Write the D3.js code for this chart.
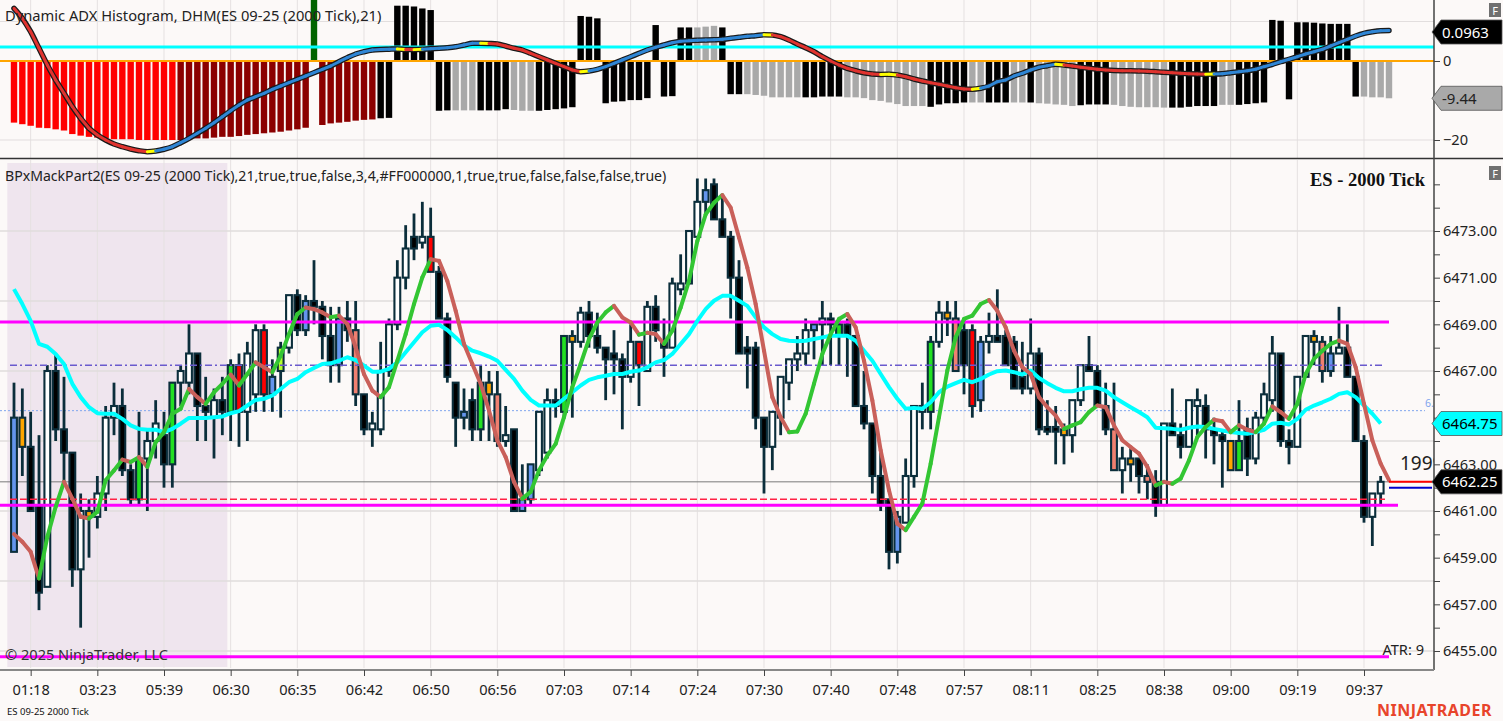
<!DOCTYPE html>
<html>
<head>
<meta charset="utf-8">
<script src="https://cdn.jsdelivr.net/npm/d3@7"></script>
<style>
	body { margin: 0; background: #fcf9f8; }
	svg { display: block; font-family: "Noto Sans", "Open Sans", sans-serif; }
</style>
</head>
<body>
<svg id="chart" width="1503" height="721"></svg>
<script>
// time axis labels and the bar they sit under
const timeLabels = ["01:18", "03:23", "05:39", "06:30", "06:35", "06:42", "06:50", "06:56", "07:03", "07:14", "07:24",
	"07:30", "07:40", "07:48", "07:57", "08:11", "08:25", "08:38", "09:00", "09:19", "09:37"];
const timeLabelBars = [2, 10, 18, 26, 34, 42, 50, 58, 66, 74, 82, 90, 98, 106, 114, 122, 130, 138, 146, 154, 162];

// 2000 tick candles
const opens = [
	6465.0, 6465.0, 6463.75, 6461.25, 6457.75, 6467.0, 6464.5, 6463.5, 6458.5, 6461.0,
	6460.75, 6461.75, 6465.0, 6465.5, 6462.75, 6461.5, 6463.25, 6464.0, 6464.25, 6463.0,
	6466.5, 6466.5, 6467.75, 6465.5, 6465.0, 6465.75, 6465.25, 6467.25, 6465.25, 6466.0,
	6468.75, 6466.0, 6467.0, 6468.0, 6470.25, 6468.75, 6470.0, 6469.75, 6468.5, 6467.25,
	6469.25, 6468.75, 6466.0, 6464.5, 6464.5, 6467.0, 6469.0, 6471.0, 6472.75, 6472.5,
	6472.75, 6471.25, 6469.25, 6466.5, 6465.0, 6465.75, 6464.5, 6466.5, 6466.0, 6464.0,
	6464.5, 6461.0, 6461.5, 6462.75, 6463.5, 6465.75, 6465.25, 6468.5, 6468.25, 6469.5,
	6468.5, 6468.0, 6467.75, 6467.5, 6466.75, 6468.25, 6467.0, 6469.75, 6468.25, 6468.0,
	6470.5, 6470.75, 6472.75, 6474.25, 6475.0, 6473.5, 6472.75, 6471.0, 6468.0, 6468.0,
	6465.0, 6463.75, 6465.0, 6466.5, 6467.5, 6467.75, 6468.75, 6469.0, 6469.25, 6468.5,
	6469.0, 6468.5, 6465.5, 6464.75, 6462.5, 6461.5, 6459.25, 6460.5, 6462.5, 6465.25,
	6465.25, 6468.25, 6469.5, 6469.25, 6468.75, 6468.75, 6465.75, 6468.25, 6468.5, 6468.5,
	6468.25, 6466.75, 6466.25, 6467.75, 6464.6, 6464.6, 6464.5, 6464.25, 6465.75, 6467.25,
	6467.0, 6465.5, 6464.5, 6462.75, 6463.25, 6463.25, 6462.5, 6462.25, 6461.25, 6464.75,
	6464.25, 6463.75, 6465.5, 6465.5, 6464.5, 6464.25, 6464.0, 6462.75, 6464.5, 6463.25,
	6465.0, 6465.75, 6467.75, 6464.0, 6463.75, 6466.75, 6468.5, 6468.25, 6467.0, 6467.75,
	6468.0, 6466.75, 6464.0, 6460.75, 6461.75
];
const highs = [
	6466.5, 6466.25, 6465.25, 6464.25, 6467.25, 6467.75, 6466.75, 6463.5, 6461.75, 6461.5,
	6462.5, 6465.5, 6466.5, 6466.25, 6463.0, 6465.25, 6464.5, 6465.75, 6465.25, 6466.5,
	6467.25, 6469.0, 6467.75, 6466.75, 6466.25, 6466.75, 6467.5, 6467.75, 6468.25, 6469.0,
	6469.0, 6467.5, 6468.25, 6470.25, 6470.5, 6470.25, 6471.75, 6470.0, 6469.75, 6469.75,
	6470.0, 6470.0, 6466.0, 6465.25, 6468.25, 6469.25, 6471.75, 6473.25, 6473.75, 6474.25,
	6474.0, 6471.5, 6469.5, 6466.5, 6466.25, 6466.25, 6467.25, 6467.0, 6467.0, 6465.5,
	6464.5, 6463.0, 6463.0, 6465.25, 6466.25, 6466.25, 6468.5, 6468.75, 6469.75, 6470.0,
	6469.5, 6468.0, 6468.75, 6467.75, 6469.0, 6468.25, 6470.0, 6470.25, 6469.25, 6471.0,
	6472.0, 6473.0, 6475.25, 6475.25, 6475.25, 6474.5, 6473.0, 6471.75, 6468.5, 6468.25,
	6465.0, 6465.25, 6466.75, 6467.5, 6468.5, 6469.25, 6469.0, 6470.0, 6469.5, 6469.25,
	6469.25, 6468.5, 6467.0, 6464.75, 6463.5, 6461.5, 6461.0, 6463.25, 6465.5, 6466.5,
	6468.5, 6470.0, 6470.0, 6470.0, 6469.25, 6469.0, 6468.5, 6469.5, 6470.5, 6468.75,
	6468.5, 6468.25, 6469.25, 6468.0, 6465.75, 6465.5, 6464.75, 6465.75, 6467.25, 6468.5,
	6467.25, 6466.5, 6466.5, 6463.75, 6463.75, 6463.25, 6463.0, 6462.75, 6464.75, 6466.25,
	6464.75, 6465.75, 6466.25, 6466.0, 6465.0, 6464.5, 6464.0, 6465.75, 6465.0, 6465.25,
	6466.5, 6468.5, 6467.75, 6464.5, 6466.75, 6468.5, 6468.75, 6468.5, 6468.5, 6469.75,
	6469.0, 6466.75, 6464.25, 6461.75, 6462.5
];
const lows = [
	6459.25, 6462.5, 6461.0, 6456.75, 6457.75, 6464.0, 6462.25, 6457.75, 6456.0, 6459.0,
	6460.25, 6461.0, 6464.25, 6462.5, 6461.25, 6461.25, 6461.0, 6463.25, 6462.0, 6462.0,
	6465.5, 6466.0, 6464.0, 6464.0, 6463.25, 6464.25, 6464.0, 6463.75, 6464.0, 6465.25,
	6465.25, 6465.25, 6465.0, 6467.75, 6468.5, 6468.5, 6469.0, 6467.5, 6466.5, 6466.5,
	6468.25, 6465.5, 6464.25, 6463.75, 6464.25, 6466.75, 6468.75, 6470.5, 6471.75, 6472.25,
	6471.25, 6469.25, 6466.5, 6463.75, 6464.5, 6464.0, 6464.0, 6464.0, 6463.75, 6463.75,
	6461.0, 6461.0, 6461.25, 6462.5, 6463.25, 6465.0, 6465.0, 6465.0, 6468.0, 6468.0,
	6467.75, 6465.75, 6466.0, 6464.5, 6466.5, 6465.5, 6467.0, 6468.25, 6466.75, 6468.0,
	6470.25, 6470.75, 6472.75, 6473.75, 6473.5, 6472.75, 6469.25, 6467.75, 6466.25, 6464.5,
	6461.75, 6462.75, 6464.25, 6465.75, 6467.0, 6467.25, 6467.5, 6467.25, 6467.25, 6467.25,
	6466.75, 6465.5, 6464.5, 6461.75, 6461.0, 6458.5, 6458.75, 6460.5, 6462.0, 6464.5,
	6464.5, 6468.0, 6468.5, 6467.0, 6466.0, 6465.0, 6465.25, 6467.75, 6468.25, 6467.25,
	6466.25, 6466.0, 6466.0, 6464.25, 6464.25, 6463.0, 6463.0, 6463.5, 6465.5, 6467.0,
	6465.5, 6464.25, 6462.75, 6461.75, 6462.25, 6461.75, 6461.5, 6460.75, 6461.25, 6464.25,
	6463.25, 6463.75, 6464.25, 6463.25, 6463.0, 6462.0, 6462.75, 6462.75, 6462.5, 6463.0,
	6464.75, 6465.25, 6463.75, 6463.0, 6463.75, 6466.75, 6467.25, 6466.5, 6466.75, 6467.75,
	6466.75, 6464.0, 6460.5, 6459.5, 6461.25
];
const closes = [
	6459.25, 6463.75, 6461.0, 6457.5, 6467.0, 6464.5, 6463.5, 6458.5, 6461.0, 6460.75,
	6461.75, 6465.0, 6465.5, 6462.75, 6461.5, 6463.25, 6464.0, 6464.75, 6463.0, 6466.5,
	6467.0, 6467.75, 6465.5, 6465.25, 6465.75, 6465.25, 6467.25, 6465.25, 6467.75, 6468.75,
	6466.0, 6466.75, 6468.0, 6470.25, 6468.75, 6470.0, 6469.75, 6468.5, 6467.25, 6469.25,
	6468.75, 6466.0, 6464.5, 6464.75, 6467.0, 6469.0, 6471.0, 6472.25, 6472.25, 6472.75,
	6471.25, 6469.25, 6466.75, 6465.0, 6465.25, 6464.5, 6466.5, 6466.0, 6464.0, 6464.25,
	6461.0, 6461.5, 6463.0, 6465.25, 6465.75, 6465.5, 6468.5, 6468.25, 6469.5, 6468.5,
	6468.0, 6467.5, 6467.5, 6466.75, 6468.25, 6467.25, 6469.75, 6468.75, 6468.0, 6470.75,
	6470.75, 6473.0, 6474.25, 6474.75, 6473.5, 6472.75, 6471.0, 6467.75, 6467.75, 6465.0,
	6463.75, 6465.25, 6466.75, 6467.5, 6467.75, 6468.75, 6469.0, 6469.25, 6469.0, 6469.0,
	6468.5, 6465.5, 6464.75, 6462.5, 6461.25, 6459.25, 6460.75, 6462.5, 6465.5, 6465.5,
	6468.25, 6469.5, 6469.25, 6467.0, 6467.25, 6465.5, 6468.25, 6468.5, 6468.25, 6467.25,
	6466.25, 6466.25, 6467.75, 6464.5, 6464.4, 6464.4, 6464.25, 6465.75, 6467.25, 6467.0,
	6465.5, 6464.5, 6462.75, 6463.25, 6463.0, 6462.5, 6462.25, 6461.25, 6464.75, 6464.25,
	6463.75, 6465.75, 6465.75, 6464.5, 6464.25, 6464.0, 6462.75, 6464.0, 6463.25, 6465.0,
	6466.0, 6467.75, 6464.0, 6463.75, 6466.75, 6468.5, 6468.25, 6467.0, 6467.75, 6468.0,
	6466.75, 6464.0, 6460.75, 6461.75, 6462.25
];
// body fill per candle: w hollow, k black, b blue, o orange, g green, r red, s salmon, y yellow-green
const candleFills = ("bokkwkkkwo" + "wwwkkgwwkg" + "wwkkwkgrww" + "rbywkbkkkb" + "kskwwwwwkw" +
	"rkkkbkgosw" + "kbbwwkgowk" + "kkkkwrwkkw" + "wwwbkkkkkk" + "kwwwwwbwkg" +
	"kkkkkkbwww" + "gwoskrbwkk" + "kkwkkkowwk" + "kkswokskwk" + "kwwkkkogkw" +
	"wwkkwwosbw" + "kkkww").split("");

// fast average (green rising / red falling)
const fastAvg = [
	6460.01, 6459.68, 6459.25, 6458.11, 6459.89, 6461.18, 6462.25, 6461.53, 6460.75, 6460.68,
	6460.96, 6462.32, 6462.74, 6463.20, 6463.10, 6463.31, 6462.89, 6463.95, 6464.38, 6465.17,
	6465.38, 6466.23, 6465.88, 6465.59, 6466.09, 6466.45, 6466.85, 6466.38, 6466.87, 6467.37,
	6467.16, 6466.95, 6467.66, 6468.58, 6469.44, 6469.72, 6469.65, 6469.51, 6469.30, 6469.37,
	6469.01, 6468.01, 6466.87, 6466.16, 6465.88, 6466.31, 6467.44, 6468.58, 6469.87, 6471.01,
	6471.79, 6471.72, 6470.86, 6469.58, 6468.16, 6467.30, 6466.45, 6465.31, 6464.03, 6463.31,
	6462.25, 6461.53, 6461.82, 6462.74, 6463.38, 6463.88, 6465.02, 6466.31, 6467.30, 6468.37,
	6469.08, 6469.51, 6469.79, 6469.30, 6469.08, 6468.56, 6468.64, 6468.58, 6468.16, 6468.73,
	6469.72, 6470.86, 6472.57, 6473.71, 6474.21, 6474.54, 6474.00, 6472.72, 6471.43, 6469.87,
	6467.87, 6465.88, 6465.02, 6464.38, 6464.41, 6465.17, 6466.45, 6467.73, 6468.58, 6469.23,
	6469.44, 6468.87, 6467.44, 6465.74, 6463.60, 6461.89, 6460.46, 6460.18, 6460.75, 6461.32,
	6463.03, 6465.02, 6467.02, 6468.44, 6469.23, 6469.37, 6469.87, 6470.04, 6469.58, 6468.87,
	6467.87, 6467.16, 6466.87, 6465.88, 6465.45, 6465.09, 6464.52, 6464.67, 6464.81, 6465.24,
	6465.52, 6465.45, 6464.67, 6464.03, 6463.74, 6463.46, 6462.89, 6462.10, 6462.25, 6462.17,
	6462.39, 6463.17, 6464.17, 6464.60, 6464.91, 6464.85, 6464.38, 6464.67, 6464.48, 6464.38,
	6464.74, 6465.48, 6465.24, 6464.95, 6465.59, 6466.87, 6467.52, 6467.87, 6468.16, 6468.30,
	6468.16, 6467.16, 6465.59, 6464.03, 6463.03, 6462.32
];
// slow average (cyan)
const slowAvg = [
	6470.51, 6469.87, 6469.15, 6468.16, 6468.04, 6467.73, 6467.30, 6466.45, 6465.88, 6465.45,
	6465.19, 6465.17, 6465.17, 6464.95, 6464.67, 6464.52, 6464.48, 6464.48, 6464.38, 6464.52,
	6464.74, 6464.99, 6464.99, 6464.99, 6465.02, 6465.05, 6465.19, 6465.28, 6465.52, 6465.76,
	6465.81, 6465.95, 6466.23, 6466.52, 6466.66, 6466.95, 6467.13, 6467.30, 6467.33, 6467.44,
	6467.59, 6467.47, 6467.23, 6466.97, 6466.97, 6467.09, 6467.37, 6467.80, 6468.23, 6468.66,
	6468.94, 6468.98, 6468.76, 6468.44, 6468.09, 6467.87, 6467.76, 6467.62, 6467.44, 6467.05,
	6466.66, 6466.16, 6465.76, 6465.52, 6465.52, 6465.52, 6465.81, 6466.09, 6466.38, 6466.62,
	6466.73, 6466.80, 6466.87, 6466.87, 6466.97, 6467.02, 6467.16, 6467.37, 6467.47, 6467.73,
	6468.16, 6468.58, 6469.15, 6469.65, 6470.01, 6470.22, 6470.22, 6470.01, 6469.79, 6469.30,
	6468.87, 6468.58, 6468.37, 6468.30, 6468.27, 6468.30, 6468.37, 6468.44, 6468.51, 6468.51,
	6468.51, 6468.30, 6467.87, 6467.44, 6466.87, 6466.31, 6465.81, 6465.38, 6465.42, 6465.38,
	6465.66, 6466.09, 6466.33, 6466.48, 6466.62, 6466.52, 6466.66, 6466.85, 6466.99, 6467.02,
	6466.95, 6466.85, 6467.02, 6466.70, 6466.48, 6466.28, 6466.13, 6466.13, 6466.22, 6466.28,
	6466.28, 6466.16, 6465.88, 6465.66, 6465.45, 6465.24, 6465.02, 6464.57, 6464.55, 6464.52,
	6464.48, 6464.57, 6464.62, 6464.60, 6464.52, 6464.45, 6464.38, 6464.34, 6464.31, 6464.38,
	6464.48, 6464.74, 6464.78, 6464.71, 6464.95, 6465.34, 6465.52, 6465.66, 6465.81, 6466.02,
	6466.09, 6465.88, 6465.52, 6465.17, 6464.75
];

// Dynamic ADX histogram panel
const histValues = [
	-15.6, -16.0, -16.4, -16.9, -17.0, -17.3, -17.6, -18.5, -18.9, -19.2,
	-19.4, -19.6, -19.8, -19.8, -19.8, -20.0, -20.0, -20.0, -20.0, -20.0,
	-20.0, -19.8, -19.6, -19.6, -19.4, -19.2, -19.2, -19.0, -18.7, -18.5,
	-18.3, -18.1, -17.9, -17.6, -17.3, -16.9, 16.0, -16.2, -15.8, -15.6,
	-15.4, -15.1, -14.9, -14.8, -14.5, -14.4, 14.0, 14.0, 13.8, 13.3,
	12.9, -12.6, -12.5, -12.5, -12.5, -12.5, -12.5, -12.5, -12.5, -12.2,
	-12.4, -12.6, -12.6, -12.6, -12.4, -12.2, -12.0, -11.7, 11.4, 11.2,
	10.8, -10.7, -10.3, -10.2, -9.9, -9.9, -9.4, 9.1, -9.0, -8.9,
	8.5, 8.5, 8.5, 8.7, 8.9, 8.5, -8.4, -8.4, -8.4, -8.6,
	-8.8, -9.2, -9.2, -9.2, -9.2, -9.2, -9.2, -9.0, -9.0, -9.0,
	-9.2, -9.2, -9.4, -9.9, -10.1, -10.5, -10.9, -11.4, -11.4, -11.4,
	-11.6, -11.0, -10.7, -10.7, -10.5, -10.5, -10.5, -10.5, -10.5, -10.5,
	-10.5, -10.5, -10.5, -10.7, -10.8, -11.0, -11.1, -11.4, -11.2, -11.0,
	-11.0, -11.0, -11.1, -11.4, -11.6, -11.7, -11.7, -11.7, -11.8, -11.8,
	-11.8, -11.6, -11.4, -11.4, -11.4, -11.1, -11.1, -11.1, -10.9, -10.7,
	-10.5, 10.4, 10.2, -9.7, 9.8, 9.8, 9.7, 9.5, 9.4, 9.4,
	9.4, -9.0, -9.0, -9.2, -9.2, -9.44
];
// R red, D dark red, G green, K black, A gray
const histColors = ("RRRRRRRRRR" + "RRRRRRRRRR" + "DDDDDDDDDD" + "DDDDDDGDDD" + "DDDDKKKKKK" +
	"KKKAAAKKKK" + "AAAKKKKKKK" + "KKKKKKKKKK" + "KKAAAKKKAA" + "AAAAAKKKKK" +
	"AAAAAAAAAA" + "KKKKKAAKKK" + "AAKAAAAAKK" + "KKAAAAAAAK" + "KKKKKAAKKK" +
	"KKKKKKKKKK" + "KKAAAA").split("");
const dhmLine = [
	13.34, 10.81, 7.42, 3.22, -1.01, -4.81, -8.18, -11.57, -14.51, -17.04,
	-18.73, -20.0, -21.01, -21.70, -22.28, -22.71, -22.96, -22.78, -22.35, -21.70,
	-20.68, -19.57, -18.30, -17.04, -15.62, -14.10, -12.58, -11.14, -9.87, -9.04,
	-8.18, -7.16, -6.33, -5.49, -4.63, -3.80, -2.96, -2.10, -1.27, -0.18,
	0.84, 1.77, 2.35, 2.78, 2.94, 2.99, 3.04, 2.93, 2.88, 2.96,
	3.12, 3.22, 3.37, 3.62, 4.05, 4.48, 4.51, 4.43, 4.30, 3.80,
	3.22, 2.78, 1.95, 1.09, 0.25, -0.58, -1.44, -2.28, -2.71, -2.53,
	-2.10, -1.44, -0.58, 0.25, 1.09, 1.95, 2.78, 3.47, 4.05, 4.63,
	4.99, 5.14, 5.24, 5.32, 5.39, 5.49, 5.75, 6.00, 6.25, 6.41,
	6.66, 6.61, 6.15, 5.32, 4.30, 3.37, 2.35, 1.09, 0.0, -1.01,
	-1.85, -2.46, -2.96, -3.29, -3.40, -3.38, -3.54, -3.97, -4.56, -5.06,
	-5.49, -5.90, -6.33, -6.76, -7.09, -7.16, -6.91, -6.33, -5.24, -4.81,
	-3.80, -3.11, -2.28, -1.59, -1.19, -0.84, -1.01, -1.27, -1.59, -1.85,
	-2.10, -2.28, -2.41, -2.46, -2.48, -2.53, -2.58, -2.71, -2.86, -2.96,
	-3.11, -3.22, -3.29, -3.34, -3.29, -3.22, -2.96, -2.71, -2.46, -2.10,
	-1.44, -0.84, -0.18, 0.43, 1.09, 1.77, 2.35, 2.96, 3.80, 4.63,
	5.49, 6.33, 7.01, 7.42, 7.67, 7.72
];
const histCyanLevel = 3.54;
const histTicks = [0, -10, -20];
const histGrid = [10, -20];
const dhmTagText = "0.0963";
const histTagText = "-9.44";

// price levels on the main panel
const magentaLevels = [[6469.1, 1389], [6461.25, 1398], [6454.75, 1389]];
const dashDotLevel = 6467.25;
const dottedLevel = 6465.3;
const redDashLevel = 6461.5;
const lastPrice = 6462.25;
const bidLevel = 6462.0;
const priceGrid = [6473, 6470, 6467, 6464, 6461, 6458, 6455];
const priceLabels = [6473, 6471, 6469, 6467, 6463, 6461, 6459, 6457, 6455];
const sessionBars = [-0.8, 25.6];

const fillColors = { w: "#ffffff", k: "#000000", b: "#6495ed", o: "#ffa500", g: "#22e022", r: "#ff0000", s: "#f08070", y: "#b5ff2f" };
const histFill = { R: "#ff0000", D: "#8b0000", G: "#006400", K: "#000000", A: "#a9a9a9" };

const axisX = 1434;
const svg = d3.select("#chart");

const x = d3.scaleLinear().domain([0, 165]).range([14, 1389]);
const yTop = d3.scaleLinear().domain([-20, 0]).range([140, 61]);
const yMain = d3.scaleLinear().domain([6455, 6473]).range([651, 231]);

svg.append("rect").attr("width", 1503).attr("height", 721).attr("fill", "#fcf9f8");

let defs = svg.append("defs");
defs.append("clipPath").attr("id", "clipTop").append("rect")
	.attr("x", 0).attr("y", 0).attr("width", axisX).attr("height", 158);
defs.append("clipPath").attr("id", "clipMain").append("rect")
	.attr("x", 0).attr("y", 160).attr("width", axisX).attr("height", 508);

// ---------- top panel ----------
let topPanel = svg.append("g").attr("clip-path", "url(#clipTop)");

topPanel.selectAll(".vgrid").data(timeLabelBars).enter().append("line")
	.attr("x1", d => x(d)).attr("x2", d => x(d)).attr("y1", 0).attr("y2", 158)
	.attr("stroke", "#e5e1e1").attr("stroke-width", 1);
topPanel.selectAll(".hgrid").data(histGrid).enter().append("line")
	.attr("x1", 0).attr("x2", axisX).attr("y1", d => yTop(d)).attr("y2", d => yTop(d))
	.attr("stroke", "#e2dede").attr("stroke-width", 1.2);

topPanel.selectAll(".hist").data(histValues).enter().append("rect")
	.attr("x", (d, i) => x(i) - 3.2)
	.attr("width", 6.4)
	.attr("y", d => Math.min(yTop(d), yTop(0)))
	.attr("height", d => Math.abs(yTop(d) - yTop(0)))
	.attr("fill", (d, i) => histFill[histColors[i]]);

topPanel.append("line").attr("x1", 0).attr("x2", axisX)
	.attr("y1", yTop(histCyanLevel)).attr("y2", yTop(histCyanLevel))
	.attr("stroke", "#00ffff").attr("stroke-width", 3);
topPanel.append("line").attr("x1", 0).attr("x2", axisX)
	.attr("y1", yTop(0)).attr("y2", yTop(0))
	.attr("stroke", "#ffa500").attr("stroke-width", 2);

let dhmGen = d3.line().x((d, i) => x(i)).y(d => yTop(d)).curve(d3.curveMonotoneX);
topPanel.append("path").attr("d", dhmGen(dhmLine))
	.attr("fill", "none").attr("stroke", "#1a1a1a").attr("stroke-width", 5.5).attr("stroke-linecap", "round");

// colour each piece: blue rising, red falling, yellow on a turn
let prevDir = dhmLine[1] >= dhmLine[0];
for (let i = 1; i < dhmLine.length; i++) {
	let dir = dhmLine[i] >= dhmLine[i - 1];
	let col = dir ? "#2f86d6" : "#e0332f";
	if (i > 1 && dir !== prevDir) col = "#ffff00";
	prevDir = dir;
	topPanel.append("line")
		.attr("x1", x(i - 1)).attr("y1", yTop(dhmLine[i - 1]))
		.attr("x2", x(i)).attr("y2", yTop(dhmLine[i]))
		.attr("stroke", col).attr("stroke-width", 3).attr("stroke-linecap", "round");
}

svg.append("text").attr("x", 5).attr("y", 21).attr("font-size", 14.7).attr("fill", "#222")
	.text("Dynamic ADX Histogram, DHM(ES 09-25 (2000 Tick),21)");

// ---------- main panel ----------
let mainPanel = svg.append("g").attr("clip-path", "url(#clipMain)");

mainPanel.append("rect")
	.attr("x", x(sessionBars[0])).attr("y", 163)
	.attr("width", x(sessionBars[1]) - x(sessionBars[0])).attr("height", 504)
	.attr("fill", "#efe5ee");

mainPanel.selectAll(".vgrid").data(timeLabelBars).enter().append("line")
	.attr("x1", d => x(d)).attr("x2", d => x(d)).attr("y1", 160).attr("y2", 668)
	.attr("stroke", "#e5e1e1").attr("stroke-width", 1);
mainPanel.selectAll(".hgrid").data(priceGrid).enter().append("line")
	.attr("x1", 0).attr("x2", axisX).attr("y1", d => yMain(d)).attr("y2", d => yMain(d))
	.attr("stroke", "#e0dcdc").attr("stroke-width", 1.5);

// thin price lines under the candles
mainPanel.append("line").attr("x1", 0).attr("x2", axisX)
	.attr("y1", yMain(lastPrice)).attr("y2", yMain(lastPrice))
	.attr("stroke", "#7a7a7a").attr("stroke-width", 1);
mainPanel.append("line").attr("x1", 0).attr("x2", 1425)
	.attr("y1", yMain(dottedLevel)).attr("y2", yMain(dottedLevel))
	.attr("stroke", "#7fa5ee").attr("stroke-width", 1).attr("stroke-dasharray", "2,2");

let candles = mainPanel.selectAll(".candle").data(opens).enter().append("g");
candles.append("line")
	.attr("x1", (d, i) => x(i)).attr("x2", (d, i) => x(i))
	.attr("y1", (d, i) => yMain(highs[i])).attr("y2", (d, i) => yMain(lows[i]))
	.attr("stroke", "#0b2e3b").attr("stroke-width", 2.8);
candles.append("rect")
	.attr("x", (d, i) => x(i) - 2.9)
	.attr("width", 5.8)
	.attr("y", (d, i) => yMain(Math.max(opens[i], closes[i])))
	.attr("height", (d, i) => Math.max(1.2, Math.abs(yMain(opens[i]) - yMain(closes[i]))))
	.attr("fill", (d, i) => fillColors[candleFills[i]])
	.attr("stroke", "#0b2e3b").attr("stroke-width", 2.1);

mainPanel.append("line").attr("x1", 10).attr("x2", 1385)
	.attr("y1", yMain(dashDotLevel)).attr("y2", yMain(dashDotLevel))
	.attr("stroke", "#6a5acd").attr("stroke-width", 1.5).attr("stroke-dasharray", "7,3,2,3");
mainPanel.append("line").attr("x1", 10).attr("x2", 1385)
	.attr("y1", yMain(redDashLevel)).attr("y2", yMain(redDashLevel))
	.attr("stroke", "#ff2244").attr("stroke-width", 1.5).attr("stroke-dasharray", "7,3");
mainPanel.selectAll(".mag").data(magentaLevels).enter().append("line")
	.attr("x1", 0).attr("x2", d => d[1])
	.attr("y1", d => yMain(d[0])).attr("y2", d => yMain(d[0]))
	.attr("stroke", "#ff00ff").attr("stroke-width", 3);

let lineGen = d3.line().x((d, i) => x(i)).y(d => yMain(d));
mainPanel.append("path").attr("d", lineGen(slowAvg))
	.attr("fill", "none").attr("stroke", "#00ffff").attr("stroke-width", 4).attr("stroke-linejoin", "round");

for (let i = 1; i < fastAvg.length; i++) {
	mainPanel.append("line")
		.attr("x1", x(i - 1)).attr("y1", yMain(fastAvg[i - 1]))
		.attr("x2", x(i)).attr("y2", yMain(fastAvg[i]))
		.attr("stroke", fastAvg[i] >= fastAvg[i - 1] ? "#33c633" : "#c9605a")
		.attr("stroke-width", 4).attr("stroke-linecap", "round");
}

// last price / bid markers
mainPanel.append("line").attr("x1", x(165)).attr("x2", 1432)
	.attr("y1", yMain(lastPrice)).attr("y2", yMain(lastPrice))
	.attr("stroke", "#ff0000").attr("stroke-width", 2);
mainPanel.append("line").attr("x1", x(165)).attr("x2", 1432)
	.attr("y1", yMain(bidLevel)).attr("y2", yMain(bidLevel))
	.attr("stroke", "#0000cc").attr("stroke-width", 2);

mainPanel.append("text").attr("x", 1400).attr("y", 470).attr("font-size", 19).attr("fill", "#222").text("1999");
mainPanel.append("text").attr("x", 1425).attr("y", yMain(dottedLevel) - 4).attr("font-size", 10.5).attr("fill", "#7fa5ee").text("6.");

svg.append("text").attr("x", 5).attr("y", 181).attr("font-size", 14.1).attr("fill", "#222")
	.text("BPxMackPart2(ES 09-25 (2000 Tick),21,true,true,false,3,4,#FF000000,1,true,true,false,false,false,true)");
svg.append("text").attr("x", 1425).attr("y", 186).attr("text-anchor", "end")
	.attr("font-family", "'Liberation Serif', serif").attr("font-weight", "bold").attr("font-size", 18.5)
	.attr("fill", "#111").text("ES - 2000 Tick");
svg.append("text").attr("x", 5).attr("y", 660).attr("font-size", 14.6).attr("fill", "#333").text("\u00a9 2025 NinjaTrader, LLC");
svg.append("text").attr("x", 1424).attr("y", 655).attr("text-anchor", "end").attr("font-size", 14.6).attr("fill", "#222").text("ATR: 9");

// ---------- frames and axes ----------
svg.append("line").attr("x1", 0).attr("x2", 1503).attr("y1", 158.5).attr("y2", 158.5).attr("stroke", "#333").attr("stroke-width", 1.5);
svg.append("line").attr("x1", axisX).attr("x2", axisX).attr("y1", 0).attr("y2", 670).attr("stroke", "#444").attr("stroke-width", 1.5);

let yAxisTop = d3.axisRight(yTop).tickValues(histTicks).tickSize(6)
	.tickFormat(d => d === -10 ? "" : d3.format("d")(d));
svg.append("g").attr("transform", "translate(" + axisX + ",0)").call(yAxisTop)
	.call(g => g.select(".domain").remove())
	.call(g => g.selectAll("text").attr("font-size", 14.6).attr("fill", "#222").attr("font-family", "Noto Sans"))
	.call(g => g.selectAll("line").attr("stroke", "#444"));

// ticks every point, labels on the odd points that are not under a tag
let yAxisMain = d3.axisRight(yMain).tickValues(d3.range(6455, 6476, 1)).tickSize(6)
	.tickFormat(d => priceLabels.indexOf(d) >= 0 ? d3.format(".2f")(d) : "");
svg.append("g").attr("transform", "translate(" + axisX + ",0)").call(yAxisMain)
	.call(g => g.select(".domain").remove())
	.call(g => g.selectAll("text").attr("font-size", 14.6).attr("fill", "#222").attr("font-family", "Noto Sans"))
	.call(g => g.selectAll("line").attr("stroke", "#444"));

let xAxis = d3.axisBottom(x).tickValues(timeLabelBars).tickSize(6)
	.tickFormat((d, i) => timeLabels[i]);
svg.append("g").attr("transform", "translate(0,670)").call(xAxis)
	.call(g => g.select(".domain").attr("d", "M0,0H" + axisX).attr("stroke", "#888").attr("stroke-width", 2))
	.call(g => g.selectAll("text").attr("font-size", 14.6).attr("fill", "#222").attr("font-family", "Noto Sans").attr("dy", "1.1em"))
	.call(g => g.selectAll("line").attr("stroke", "#444"));

// value tags on the axis
function drawTag(yPos, label, fill, color) {
	let pts = [[1432, yPos], [1441, yPos - 12], [1502, yPos - 12], [1502, yPos + 12], [1441, yPos + 12]];
	svg.append("polygon").attr("points", pts.map(p => p.join(",")).join(" "))
		.attr("fill", fill).attr("stroke", "#555").attr("stroke-width", 0.8);
	svg.append("text").attr("x", 1442).attr("y", yPos + 5.5).attr("font-size", 15)
		.attr("fill", color).text(label);
}
drawTag(yTop(dhmLine[dhmLine.length - 1]) + 1.5, dhmTagText, "#000", "#fff");
drawTag(yTop(histValues[histValues.length - 1]), histTagText, "#a9a9a9", "#222");
drawTag(yMain(slowAvg[slowAvg.length - 1]), d3.format(".2f")(slowAvg[slowAvg.length - 1]), "#00ffff", "#000");
drawTag(yMain(lastPrice), d3.format(".2f")(lastPrice), "#000", "#fff");

// small F buttons
[3, 166].forEach(function(ty) {
	svg.append("rect").attr("x", 1489).attr("y", ty).attr("width", 12).attr("height", 14).attr("fill", "#707070");
	svg.append("text").attr("x", 1495).attr("y", ty + 11.5).attr("text-anchor", "middle")
		.attr("font-size", 11).attr("fill", "#fff").text("F");
});

svg.append("text").attr("x", 7).attr("y", 715).attr("font-size", 9.5).attr("fill", "#111").text("ES 09-25 2000 Tick");
svg.append("text").attr("x", 1492).attr("y", 716).attr("text-anchor", "end")
	.attr("font-size", 16).attr("font-weight", "bold").attr("fill", "#e8442b").attr("letter-spacing", 0.5)
	.text("NINJATRADER");
</script>
</body>
</html>
